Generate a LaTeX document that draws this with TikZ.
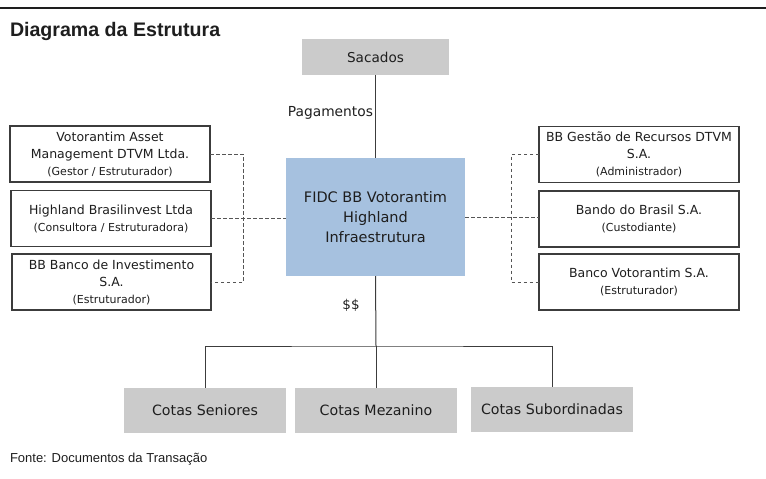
\documentclass[tikz,border=0pt]{standalone}
\usepackage{fontspec}
\setmainfont{Liberation Sans}
\newfontfamily\boxfnt{DejaVu Sans}
\definecolor{grayfill}{HTML}{CBCBCB}
\definecolor{bluefill}{HTML}{A6C1DF}
\definecolor{edge}{HTML}{3C3C3C}
\definecolor{txt}{HTML}{1E1E1E}
\definecolor{dash}{HTML}{555555}
\begin{document}
\begin{tikzpicture}[x=1pt,y=-1pt,
  every node/.style={inner sep=0pt, outer sep=0pt, text=txt},
  graybox/.style={fill=grayfill, minimum width=162pt, minimum height=45pt, font=\boxfnt\fontsize{14.2}{16}\selectfont},
  whitebox/.style={draw=edge, line width=1.2pt, fill=white, minimum width=200pt, minimum height=56pt, align=center, font=\boxfnt\fontsize{12.5}{17}\selectfont},
  solidline/.style={draw=edge, line width=1pt},
  dashline/.style={draw=dash, line width=1pt, dash pattern=on 3.5pt off 2.5pt}
]
\useasboundingbox (0,0) rectangle (766,479);
\draw[line width=1.4pt, draw=txt] (0,8) -- (766,8);
\node[anchor=base west, font=\bfseries\fontsize{19.6}{22}\selectfont] (title) at (10,36) {Diagrama da Estrutura};
\node[anchor=base west, font=\fontsize{13}{15}\selectfont] (fonte) at (10,462) {Fonte: Documentos da Transação};

\node[graybox, minimum width=147pt, minimum height=36pt, font=\boxfnt\fontsize{13.6}{16}\selectfont] (sac) at (375.5,57) {Sacados};
\node[fill=bluefill, minimum width=179pt, minimum height=118pt, align=center, font=\boxfnt\fontsize{14.5}{20}\selectfont] (fidc) at (375.5,217) {FIDC BB Votorantim\\Highland\\Infraestrutura};

\newcommand{\sm}[1]{{\fontsize{11}{13}\selectfont #1}}
\node[whitebox] (l1) at (110,154) {Votorantim Asset\\Management DTVM Ltda.\\[0pt]\sm{(Gestor / Estruturador)}};
\node[whitebox] (l2) at (111,218.5) {Highland Brasilinvest Ltda\\[0pt]\sm{(Consultora / Estruturadora)}};
\node[whitebox, minimum width=199pt] (l3) at (111.5,282) {BB Banco de Investimento\\S.A.\\[0pt]\sm{(Estruturador)}};

\node[whitebox] (r1) at (639,154.5) {BB Gestão de Recursos DTVM\\S.A.\\[0pt]\sm{(Administrador)}};
\node[whitebox] (r2) at (639,219) {Bando do Brasil S.A.\\[0pt]\sm{(Custodiante)}};
\node[whitebox] (r3) at (639,282) {Banco Votorantim S.A.\\[0pt]\sm{(Estruturador)}};

\node[graybox] (s1) at (205,410) {Cotas Seniores};
\node[graybox] (s2) at (376,410.5) {Cotas Mezanino};
\node[graybox] (s3) at (552,409.5) {Cotas Subordinadas};

\node[anchor=east, font=\boxfnt\fontsize{13.8}{16}\selectfont] (pag) at (373,113) {Pagamentos};
\node[font=\boxfnt\fontsize{13.5}{16}\selectfont] (ss) at (351,305.5) {\$\$};

\coordinate (bus) at (376,346);
\draw[solidline] (sac.south) -- (fidc.north);
\draw[solidline] (fidc.south) -- (bus);
\draw[solidline] (s1.north) |- (bus) -| (s3.north);
\draw[solidline] (bus) -- (s2.north);

\draw[dashline] (l1.east) -- ++(33,0) |- (l3.east);
\draw[dashline] (l2.east) -- (l2.east -| fidc.west);
\draw[dashline] (r1.west) -- ++(-28,0) |- (r3.west);
\draw[dashline] (fidc.east) -- (fidc.east -| r2.west);
\end{tikzpicture}
\end{document}
